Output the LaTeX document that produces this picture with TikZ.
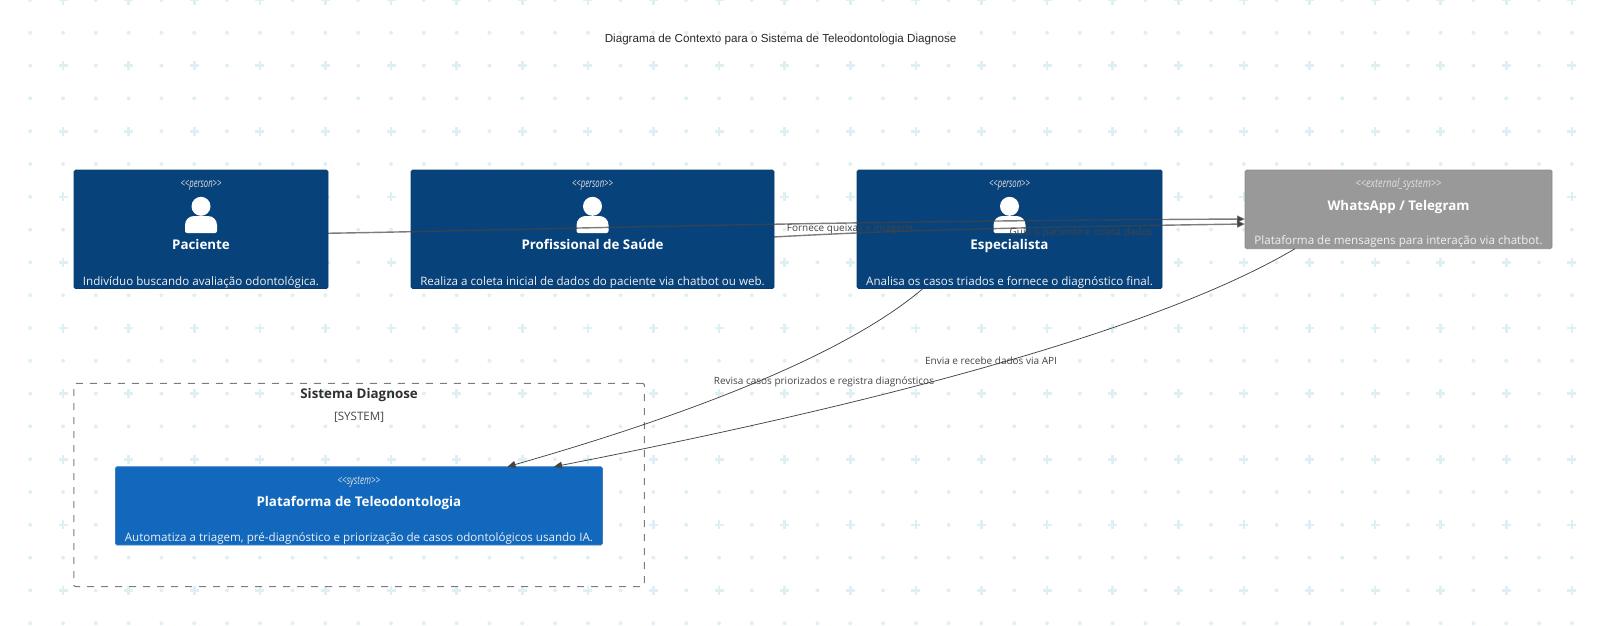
\documentclass[tikz,border=0pt]{standalone}
\usepackage{fontspec}
\setmainfont{Open Sans}
\newfontfamily\titlefont{Liberation Sans}
\usetikzlibrary{arrows.meta, positioning, calc}
\definecolor{personblue}{HTML}{08427B}
\definecolor{personedge}{HTML}{073B6F}
\definecolor{systemblue}{HTML}{1168BD}
\definecolor{systemedge}{HTML}{3C7FC0}
\definecolor{extgray}{HTML}{999999}
\definecolor{extedge}{HTML}{8A8A8A}
\definecolor{relgray}{HTML}{444444}
\definecolor{dotcolor}{HTML}{DFF0F4}

\begin{document}
\begin{tikzpicture}[
  x=1pt, y=-1pt,
  node distance=83pt,
  box/.style={draw, rounded corners=1.5pt, line width=0.7pt, inner sep=0pt, outer sep=0pt, minimum height=118.5pt},
  personbox/.style={box, fill=personblue, draw=personedge},
  extbox/.style={box, fill=extgray, draw=extedge, minimum height=78.7pt, minimum width=307pt},
  sysbox/.style={box, fill=systemblue, draw=systemedge, minimum height=78.3pt, minimum width=487pt},
  boundary/.style={draw=relgray!70, dash pattern=on 7pt off 7pt, rounded corners=1.5pt, line width=1pt, inner sep=0pt, outer sep=0pt, minimum width=570.6pt, minimum height=203.4pt},
  tagtext/.style={anchor=base, inner sep=0pt, text=white!88!black, font=\fontsize{12}{14}\selectfont\itshape},
  nametext/.style={anchor=base, inner sep=0pt, text=white, font=\fontsize{13.35}{16}\selectfont\bfseries},
  desctext/.style={anchor=base, inner sep=0pt, text=white!94!black, font=\fontsize{11.6}{14}\selectfont},
  rellabel/.style={inner sep=0pt, text=relgray, font=\fontsize{10}{12}\selectfont},
  rel/.style={draw=relgray, line width=0.75pt, -{Triangle[length=8pt,width=7pt]}},
  relflat/.style={rel, line width=1.4pt, draw opacity=0.7},
]
\useasboundingbox (0,0) rectangle (1600,625);

% background grid
\begin{scope}
\clip (0,0) rectangle (1600,625);
\foreach \i in {0,...,24}{
  \foreach \j in {0,...,9}{
    \fill[dotcolor] (63+65.6*\i-4.5,65.6*\j-1.3) rectangle +(9,2.6);
    \fill[dotcolor] (63+65.6*\i-1.3,65.6*\j-4.5) rectangle +(2.6,9);
    \fill[dotcolor] (30.2+65.6*\i,65.6*\j) circle (2);
    \fill[dotcolor] (30.2+65.6*\i,32.8+65.6*\j) circle (2);
    \fill[dotcolor] (63+65.6*\i,32.8+65.6*\j) circle (2);
  }
}
\end{scope}

\node[anchor=base, inner sep=0pt, text=relgray!60!black, font=\fontsize{11.65}{14}\selectfont\titlefont] (title) at (780.6,42) {Diagrama de Contexto para o Sistema de Teleodontologia Diagnose};

\node[personbox, minimum width=254pt, anchor=north west] (paciente) at (74,170) {};
\node[personbox, minimum width=363pt, right=of paciente] (profissional) {};
\node[personbox, minimum width=305pt, right=of profissional] (especialista) {};
\node[extbox, anchor=north west] (whatsapp) at (1245,170) {};

\node[boundary, anchor=north west] (diagnose) at (73.8,383.3) {};
\node[sysbox, anchor=north west] (plataforma) at (115.4,466.7) {};

\node[anchor=base, inner sep=0pt, text=relgray!70!black, font=\fontsize{13.35}{16}\selectfont\bfseries] (diagnose-name) at ($(diagnose.north)+(0,15.5)$) {Sistema Diagnose};
\node[anchor=base, inner sep=0pt, text=relgray, font=\fontsize{11.6}{14}\selectfont] (diagnose-tag) at ($(diagnose.north)+(0,37)$) {[SYSTEM]};

\foreach \who in {paciente,profissional,especialista}{
  \fill[white] ($(\who.north)+(0,36.3)$) circle (9.5);
  \fill[white, rounded corners=2pt] ($(\who.north)+(0,63)$) -- ++(-16,0) [rounded corners=9pt] -- ++(0,-17) -- ++(32,0) [rounded corners=2pt] -- ++(0,17) -- cycle;
}

\foreach \who/\cargo/\fator/\nome/\desc/\namey/\descy in {
  paciente/person/0.64/Paciente/{Indivíduo buscando avaliação odontológica.}/79/115,
  profissional/person/0.64/Profissional de Saúde/{Realiza a coleta inicial de dados do paciente via chatbot ou web.}/79/115,
  especialista/person/0.64/Especialista/{Analisa os casos triados e fornece o diagnóstico final.}/79/115,
  whatsapp/external\_system/0.77/{WhatsApp / Telegram}/{Plataforma de mensagens para interação via chatbot.}/40/74.5,
  plataforma/system/0.67/Plataforma de Teleodontologia/{Automatiza a triagem, pré-diagnóstico e priorização de casos odontológicos usando IA.}/40/75}{
  \node[tagtext] (\who-tag) at ($(\who.north)+(0,17.5)$) {\scalebox{\fator}[1]{<{}<\cargo>{}>}};
  \node[nametext] (\who-name) at ($(\who.north)+(0,\namey)$) {\nome};
  \node[desctext] (\who-desc) at ($(\who.north)+(0,\descy)$) {\desc};
}

\draw[relflat] ([yshift=-4pt]paciente.east) .. controls +(153,-2.3) and (786,221.3) .. ([yshift=-9.65pt]whatsapp.west);
\draw[relflat] ([yshift=-7.7pt]profissional.east) .. controls +(78.5,-4.2) and (946,228.2) .. ([yshift=-14.65pt]whatsapp.west);
\draw[rel] ([xshift=-86.5pt]especialista.south) .. controls (853.7,347.7) and (715.2,407.3) .. ([xshift=148.6pt]plataforma.north);
\draw[rel] ([xshift=-103.5pt]whatsapp.south) .. controls (1171.7,321.6) and (924.7,394.3) .. ([xshift=195.1pt]plataforma.north);

\node[rellabel] (queixas) at (850,228.7) {Fornece queixas e imagens};
\node[rellabel] (guia) at (1081,233) {Guia o paciente e coleta dados};
\node[rellabel] (revisa) at (824,381.5) {Revisa casos priorizados e registra diagnósticos};
\node[rellabel] (envia) at (991,361) {Envia e recebe dados via API};
\end{tikzpicture}
\end{document}
